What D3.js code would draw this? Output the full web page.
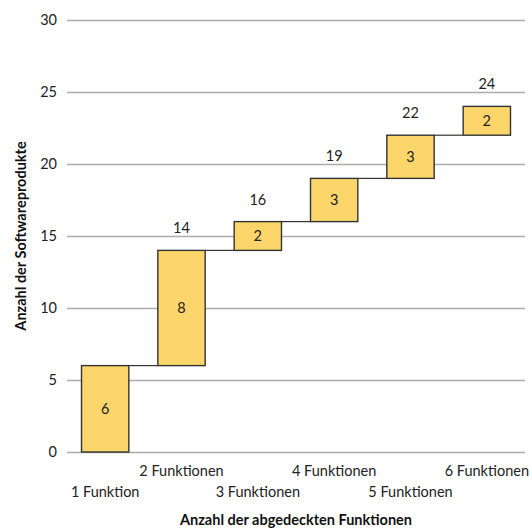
<!DOCTYPE html>
<html>
<head>
<meta charset="utf-8">
<script src="https://cdn.jsdelivr.net/npm/d3@7/dist/d3.min.js"></script>
<style>
  html, body { margin: 0; padding: 0; background: #fff; }
  svg { display: block; font-family: Lato, "Open Sans", sans-serif; }
</style>
</head>
<body>
<svg id="chart" width="532" height="530"></svg>
<script>
// Number of software products by number of covered functions (waterfall)
const categories = ["1 Funktion", "2 Funktionen", "3 Funktionen", "4 Funktionen", "5 Funktionen", "6 Funktionen"];
const increments = [6, 8, 2, 3, 3, 2];
const totals = [6, 14, 16, 19, 22, 24];
const yTicks = [0, 5, 10, 15, 20, 25, 30];
const xTitle = "Anzahl der abgedeckten Funktionen";
const yTitle = "Anzahl der Softwareprodukte";

const svg = d3.select("#chart");
const margin = { left: 67, right: 7, top: 20, bottom: 78 };
const W = 532, H = 530;
const fs = "14.5px";

const x = d3.scaleBand()
  .domain(categories)
  .range([margin.left, W - margin.right])
  .paddingInner(0.38)
  .paddingOuter(0.19);

const y = d3.scaleLinear()
  .domain([0, 30])
  .range([H - margin.bottom, margin.top]);

// Gridlines and y tick labels
const yAxis = d3.axisLeft(y)
  .tickValues(yTicks)
  .tickSize(-(W - margin.left - margin.right))
  .tickPadding(10);

const gy = svg.append("g")
  .attr("transform", `translate(${margin.left},0)`)
  .call(yAxis);
gy.select(".domain").remove();
gy.selectAll(".tick line").attr("stroke", "#ababab").attr("stroke-width", 1.6);
gy.selectAll(".tick text")
  .attr("fill", "#222")
  .style("font-size", fs)
  .style("font-family", "Lato, 'Open Sans', sans-serif");

const data = categories.map((c, i) => ({
  cat: c,
  inc: increments[i],
  total: totals[i],
  base: totals[i] - increments[i],
  i
}));

// Connector lines between consecutive bars
svg.append("g")
  .selectAll("line")
  .data(data.slice(0, -1))
  .join("line")
  .attr("x1", d => x(d.cat) + x.bandwidth())
  .attr("x2", d => x(categories[d.i + 1]))
  .attr("y1", d => y(d.total))
  .attr("y2", d => y(d.total))
  .attr("stroke", "#333")
  .attr("stroke-width", 1.2);

// Floating bars
svg.append("g")
  .selectAll("rect")
  .data(data)
  .join("rect")
  .attr("x", d => x(d.cat))
  .attr("width", x.bandwidth())
  .attr("y", d => y(d.total))
  .attr("height", d => y(d.base) - y(d.total))
  .attr("fill", "#fcd56b")
  .attr("stroke", "#333")
  .attr("stroke-width", 1.4);

// Increment labels inside bars
svg.append("g")
  .selectAll("text")
  .data(data)
  .join("text")
  .attr("x", d => x(d.cat) + x.bandwidth() / 2)
  .attr("y", d => y((d.total + d.base) / 2))
  .attr("dy", "0.35em")
  .attr("text-anchor", "middle")
  .attr("fill", "#222")
  .style("font-size", fs)
  .text(d => d.inc);

// Running totals above bars
svg.append("g")
  .selectAll("text")
  .data(data.slice(1))
  .join("text")
  .attr("x", d => x(d.cat) + x.bandwidth() / 2)
  .attr("y", d => y(d.total) - 22)
  .attr("dy", "0.35em")
  .attr("text-anchor", "middle")
  .attr("fill", "#222")
  .style("font-size", fs)
  .text(d => d.total);

// Staggered category labels
svg.append("g")
  .selectAll("text")
  .data(data)
  .join("text")
  .attr("x", d => x(d.cat) + x.bandwidth() / 2)
  .attr("y", d => d.i % 2 === 1 ? H - margin.bottom + 19 : H - margin.bottom + 40)
  .attr("dy", "0.35em")
  .attr("text-anchor", "middle")
  .attr("fill", "#222")
  .style("font-size", fs)
  .text(d => d.cat);

// Axis titles
svg.append("text")
  .attr("x", (margin.left + W - margin.right) / 2)
  .attr("y", 520)
  .attr("dy", "0.35em")
  .attr("text-anchor", "middle")
  .attr("fill", "#111")
  .style("font-size", fs)
  .style("font-weight", "bold")
  .text(xTitle);

svg.append("text")
  .attr("transform", `translate(21,${(y(0) + y(30)) / 2}) rotate(-90)`)
  .attr("dy", "0.35em")
  .attr("text-anchor", "middle")
  .attr("fill", "#111")
  .style("font-size", fs)
  .style("font-weight", "bold")
  .text(yTitle);
</script>
</body>
</html>
